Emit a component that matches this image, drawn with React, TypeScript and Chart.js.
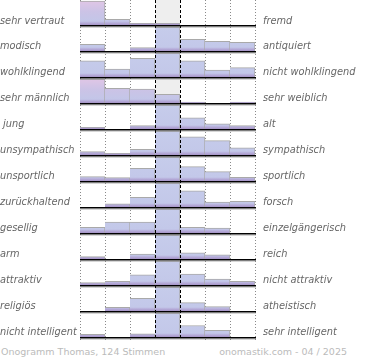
import React, { useEffect, useRef } from "react";
import { Chart, registerables } from "chart.js";
Chart.register(...registerables);

// Seven answer bins of the semantic differential (left pole .. right pole)
const bins = ["1", "2", "3", "4", "5", "6", "7"];

const leftLabels = [
  "sehr vertraut", "modisch", "wohlklingend", "sehr männlich", " jung",
  "unsympathisch", "unsportlich", "zurückhaltend", "gesellig", "arm",
  "attraktiv", "religiös", "nicht intelligent",
];
const rightLabels = [
  "fremd", "antiquiert", "nicht wohlklingend", "sehr weiblich", "alt",
  "sympathisch", "sportlich", "forsch", "einzelgängerisch", "reich",
  "nicht attraktiv", "atheistisch", "sehr intelligent",
];

// Bar heights per row, in % of the row's highest bin
const vertraut = [100, 24, 7, 7, 0, 0, 0];
const modisch = [28, 0, 14, 100, 49, 40, 36];
const wohlklingend = [67, 33, 78, 100, 67, 29, 39];
const maennlich = [100, 61, 58, 36, 4, 0, 4];
const jung = [7, 0, 14, 100, 47, 22, 14];
const unsympathisch = [14, 7, 24, 100, 76, 60, 30];
const unsportlich = [18, 14, 53, 100, 60, 39, 15];
const zurueckhaltend = [0, 13, 40, 100, 67, 20, 24];
const gesellig = [24, 45, 45, 100, 24, 20, 0];
const arm = [10, 0, 21, 100, 26, 17, 0];
const attraktiv = [10, 15, 42, 100, 45, 25, 15];
const religioes = [0, 15, 53, 100, 35, 18, 0];
const intelligent = [11, 0, 13, 100, 48, 28, 0];

const rows = [
  vertraut, modisch, wohlklingend, maennlich, jung, unsympathisch, unsportlich,
  zurueckhaltend, gesellig, arm, attraktiv, religioes, intelligent,
];

const footerLeft = "Onogramm Thomas, 124 Stimmen";
const footerRight = "onomastik.com - 04 / 2025";

// layout units (1 unit = 1 px on the value axis)
const ROW = 26;
const FULL = 24;
const N = rows.length;
const baseOf = (r: number) => (N - 1 - r) * ROW;

const labelFont = { family: "'DejaVu Sans', sans-serif", size: 9.8, style: "italic" as const };

const fitAxis = (width: number) => (s: any) => {
  s.width = width;
  s.paddingTop = 0;
  s.paddingBottom = 0;
};

export default function App() {
  const ref = useRef<HTMLCanvasElement | null>(null);

  useEffect(() => {
    if (!ref.current) return;

    const datasets = rows.map((vals, r) => {
      const base = baseOf(r);
      const peak = vals.indexOf(Math.max(...vals));
      const pink = peak !== 3;
      return {
        label: leftLabels[r],
        data: vals.map((v) => (v > 0 ? [base, base + (v * FULL) / 100] : null)),
        grouped: false,
        barPercentage: 1,
        categoryPercentage: 1,
        borderWidth: { top: 1, right: 1, bottom: 0, left: 0 },
        borderSkipped: false as const,
        borderColor: "#a9a9a9",
        backgroundColor: (c: any) => {
          const chart = c.chart;
          const area = chart.chartArea;
          if (!area) return "#c4cae9";
          const y = chart.scales.y;
          const yTop = y.getPixelForValue(base + FULL);
          const yBot = y.getPixelForValue(base);
          const g = chart.ctx.createLinearGradient(0, yTop, 0, yBot);
          if (pink) {
            g.addColorStop(0, "#e0c6e6");
            g.addColorStop(0.45, "#cbc3e6");
            g.addColorStop(0.84, "#c3c6e8");
          } else {
            g.addColorStop(0, "#c6cceb");
            g.addColorStop(0.84, "#c3c8e9");
          }
          g.addColorStop(0.9, "#b9b2dd");
          g.addColorStop(1, "#a593c6");
          return g;
        },
      };
    });

    const gridPlugin = {
      id: "ogrid",
      beforeDatasetsDraw(chart: any) {
        const { ctx, chartArea, scales } = chart;
        const x = scales.x;
        const w = (chartArea.right - chartArea.left) / bins.length;
        const edges = bins.map((_, i) => x.getPixelForValue(i) - w / 2);
        edges.push(x.getPixelForValue(bins.length - 1) + w / 2);
        ctx.save();
        ctx.fillStyle = "#eeeeee";
        ctx.fillRect(edges[3], chartArea.top, edges[4] - edges[3], chartArea.bottom - chartArea.top);
        ctx.strokeStyle = "#8a8a8a";
        ctx.lineWidth = 1;
        ctx.setLineDash([1, 2]);
        edges.forEach((e, i) => {
          if (i === 3 || i === 4) return;
          const px = Math.round(e) + 0.5;
          ctx.beginPath();
          ctx.moveTo(px, chartArea.top);
          ctx.lineTo(px, chartArea.bottom + 3);
          ctx.stroke();
        });
        ctx.restore();
      },
      afterDatasetsDraw(chart: any) {
        const { ctx, chartArea, scales } = chart;
        const x = scales.x;
        const y = scales.y;
        const w = (chartArea.right - chartArea.left) / bins.length;
        ctx.save();
        rows.forEach((_, r) => {
          const py = Math.round(y.getPixelForValue(baseOf(r)));
          ctx.fillStyle = "#000";
          ctx.fillRect(chartArea.left, py, chartArea.right - chartArea.left + 1, 1.5);
          ctx.fillStyle = "rgba(120,120,120,0.6)";
          ctx.fillRect(chartArea.left, py + 1.5, chartArea.right - chartArea.left + 1, 1);
        });
        ctx.strokeStyle = "#000";
        ctx.lineWidth = 1;
        ctx.setLineDash([3, 2]);
        [x.getPixelForValue(3) - w / 2, x.getPixelForValue(3) + w / 2].forEach((e) => {
          const px = Math.round(e) + 0.5;
          ctx.beginPath();
          ctx.moveTo(px, chartArea.top);
          ctx.lineTo(px, chartArea.bottom + 2);
          ctx.stroke();
        });
        ctx.restore();
      },
    };

    const chart = new Chart(ref.current, {
      type: "bar",
      data: { labels: bins, datasets: datasets as any },
      options: {
        responsive: false,
        animation: false,
        layout: { padding: { top: 0, bottom: 3, left: 0, right: 0 } },
        plugins: { legend: { display: false }, tooltip: { enabled: false }, title: { display: false } },
        scales: {
          x: { type: "category", display: false, offset: true, grid: { display: false } },
          y: {
            type: "linear",
            display: false,
            min: 0,
            max: baseOf(0) + FULL + 1,
          },
          yl: {
            type: "category",
            position: "left",
            labels: leftLabels,
            offset: true,
            grid: { display: false, drawTicks: false },
            border: { display: false },
            ticks: {
              autoSkip: false,
              crossAlign: "far",
              padding: 0,
              labelOffset: 8,
              color: "#666",
              font: labelFont,
            },
            afterFit: fitAxis(80),
          },
          yr: {
            type: "category",
            position: "right",
            labels: rightLabels,
            offset: true,
            grid: { display: false, drawTicks: false },
            border: { display: false },
            ticks: {
              autoSkip: false,
              crossAlign: "near",
              padding: 8,
              labelOffset: 8,
              color: "#666",
              font: labelFont,
            },
            afterFit: fitAxis(115),
          },
        },
      } as any,
      plugins: [gridPlugin],
    });
    return () => chart.destroy();
  }, []);

  const foot: React.CSSProperties = {
    position: "absolute",
    top: 345,
    fontFamily: "'DejaVu Sans', sans-serif",
    fontSize: "9.5px",
    color: "#bbbbbb",
    whiteSpace: "nowrap",
    lineHeight: "14px",
  };

  return (
    <div style={{ position: "absolute", left: 0, top: 0, width: 370, height: 360, background: "#fff", overflow: "hidden" }}>
      <canvas ref={ref} width={370} height={340} style={{ display: "block", width: 370, height: 340 }} />
      <div style={{ ...foot, left: 1 }}>{footerLeft}</div>
      <div style={{ ...foot, right: 23, textAlign: "right" }}>{footerRight}</div>
    </div>
  );
}
